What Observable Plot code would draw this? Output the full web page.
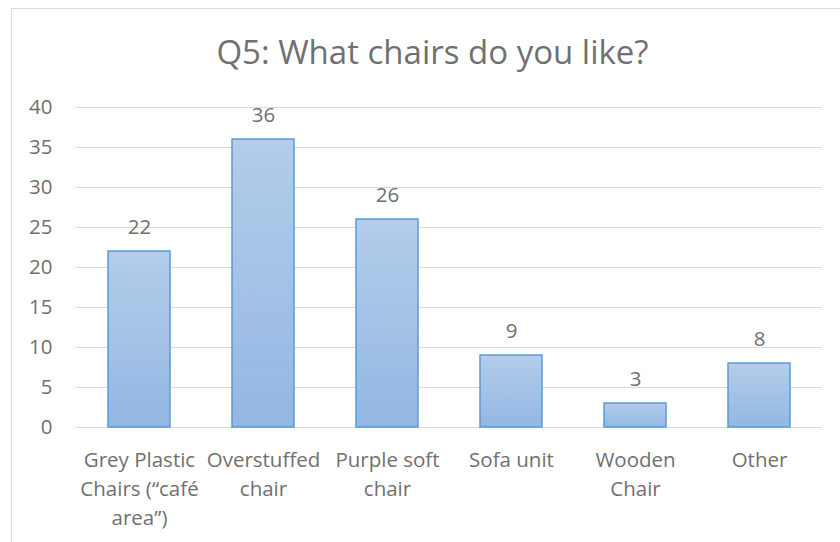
<!DOCTYPE html>
<html><head><meta charset="utf-8">
<script src="https://cdn.jsdelivr.net/npm/d3@7"></script>
<script src="https://cdn.jsdelivr.net/npm/@observablehq/plot@0.6"></script>
<style>
html,body{margin:0;padding:0;background:#fff;overflow:hidden;width:840px;height:542px}
#frame{position:absolute;left:11px;top:8px;width:1000px;height:1000px;border-left:1px solid #d9d9d9;border-top:1px solid #d9d9d9;box-sizing:border-box}
#title{position:absolute;left:0;width:865px;top:35px;text-align:center;font-family:"Open Sans";font-size:33px;line-height:33px;color:#707070;white-space:nowrap}
#chart{position:absolute;left:0;top:0}
</style></head>
<body>
<div id="frame"></div>
<div id="chart"></div>
<div id="title">Q5: What chairs do you like?</div>
<script>
const categories = ["Grey Plastic Chairs (“café area”)", "Overstuffed chair", "Purple soft chair", "Sofa unit", "Wooden Chair", "Other"];
const tickLabels = ["Grey Plastic\nChairs (“café\narea”)", "Overstuffed\nchair", "Purple soft\nchair", "Sofa unit", "Wooden\nChair", "Other"];
const values = [22, 36, 26, 9, 3, 8];
const yTicks = [0, 5, 10, 15, 20, 25, 30, 35, 40];

const data = categories.map((c, i) => ({category: c, value: values[i]}));

const gradientDefs = () => {
  const defs = d3.create("svg:defs");
  const lg = defs.append("linearGradient").attr("id", "barGrad")
    .attr("x1", 0).attr("y1", 0).attr("x2", 0).attr("y2", 1);
  lg.append("stop").attr("offset", "0%").attr("stop-color", "#b3cdea");
  lg.append("stop").attr("offset", "100%").attr("stop-color", "#93b7e3");
  return defs.node();
};

const chart = Plot.plot({
  width: 840, height: 542,
  marginLeft: 75, marginRight: 18, marginTop: 107, marginBottom: 115,
  style: {fontFamily: "Open Sans", fontSize: "20.5px", color: "#707070", background: "transparent", overflow: "visible"},
  x: {domain: categories, paddingInner: 0.5, paddingOuter: 0.25},
  y: {domain: [0, 40]},
  marks: [
    gradientDefs,
    Plot.ruleY(yTicks, {stroke: "#d9d9d9", strokeWidth: 1}),
    Plot.barY(data, {x: "category", y: "value", fill: "url(#barGrad)", stroke: "#5b9bd5", strokeWidth: 1.5}),
    Plot.text(data, {x: "category", y: "value", text: d => String(d.value), lineAnchor: "bottom", dy: -18, fill: "#707070", fontSize: 20.5}),
    Plot.axisY({ticks: yTicks, tickSize: 0, tickPadding: 23, fontSize: 20.5, label: null}),
    Plot.axisX({tickSize: 0, tickPadding: 19, tickFormat: d => tickLabels[categories.indexOf(d)], lineHeight: 1.415, fontSize: 20.5, label: null})
  ]
});
document.getElementById("chart").appendChild(chart);
</script>
</body></html>
